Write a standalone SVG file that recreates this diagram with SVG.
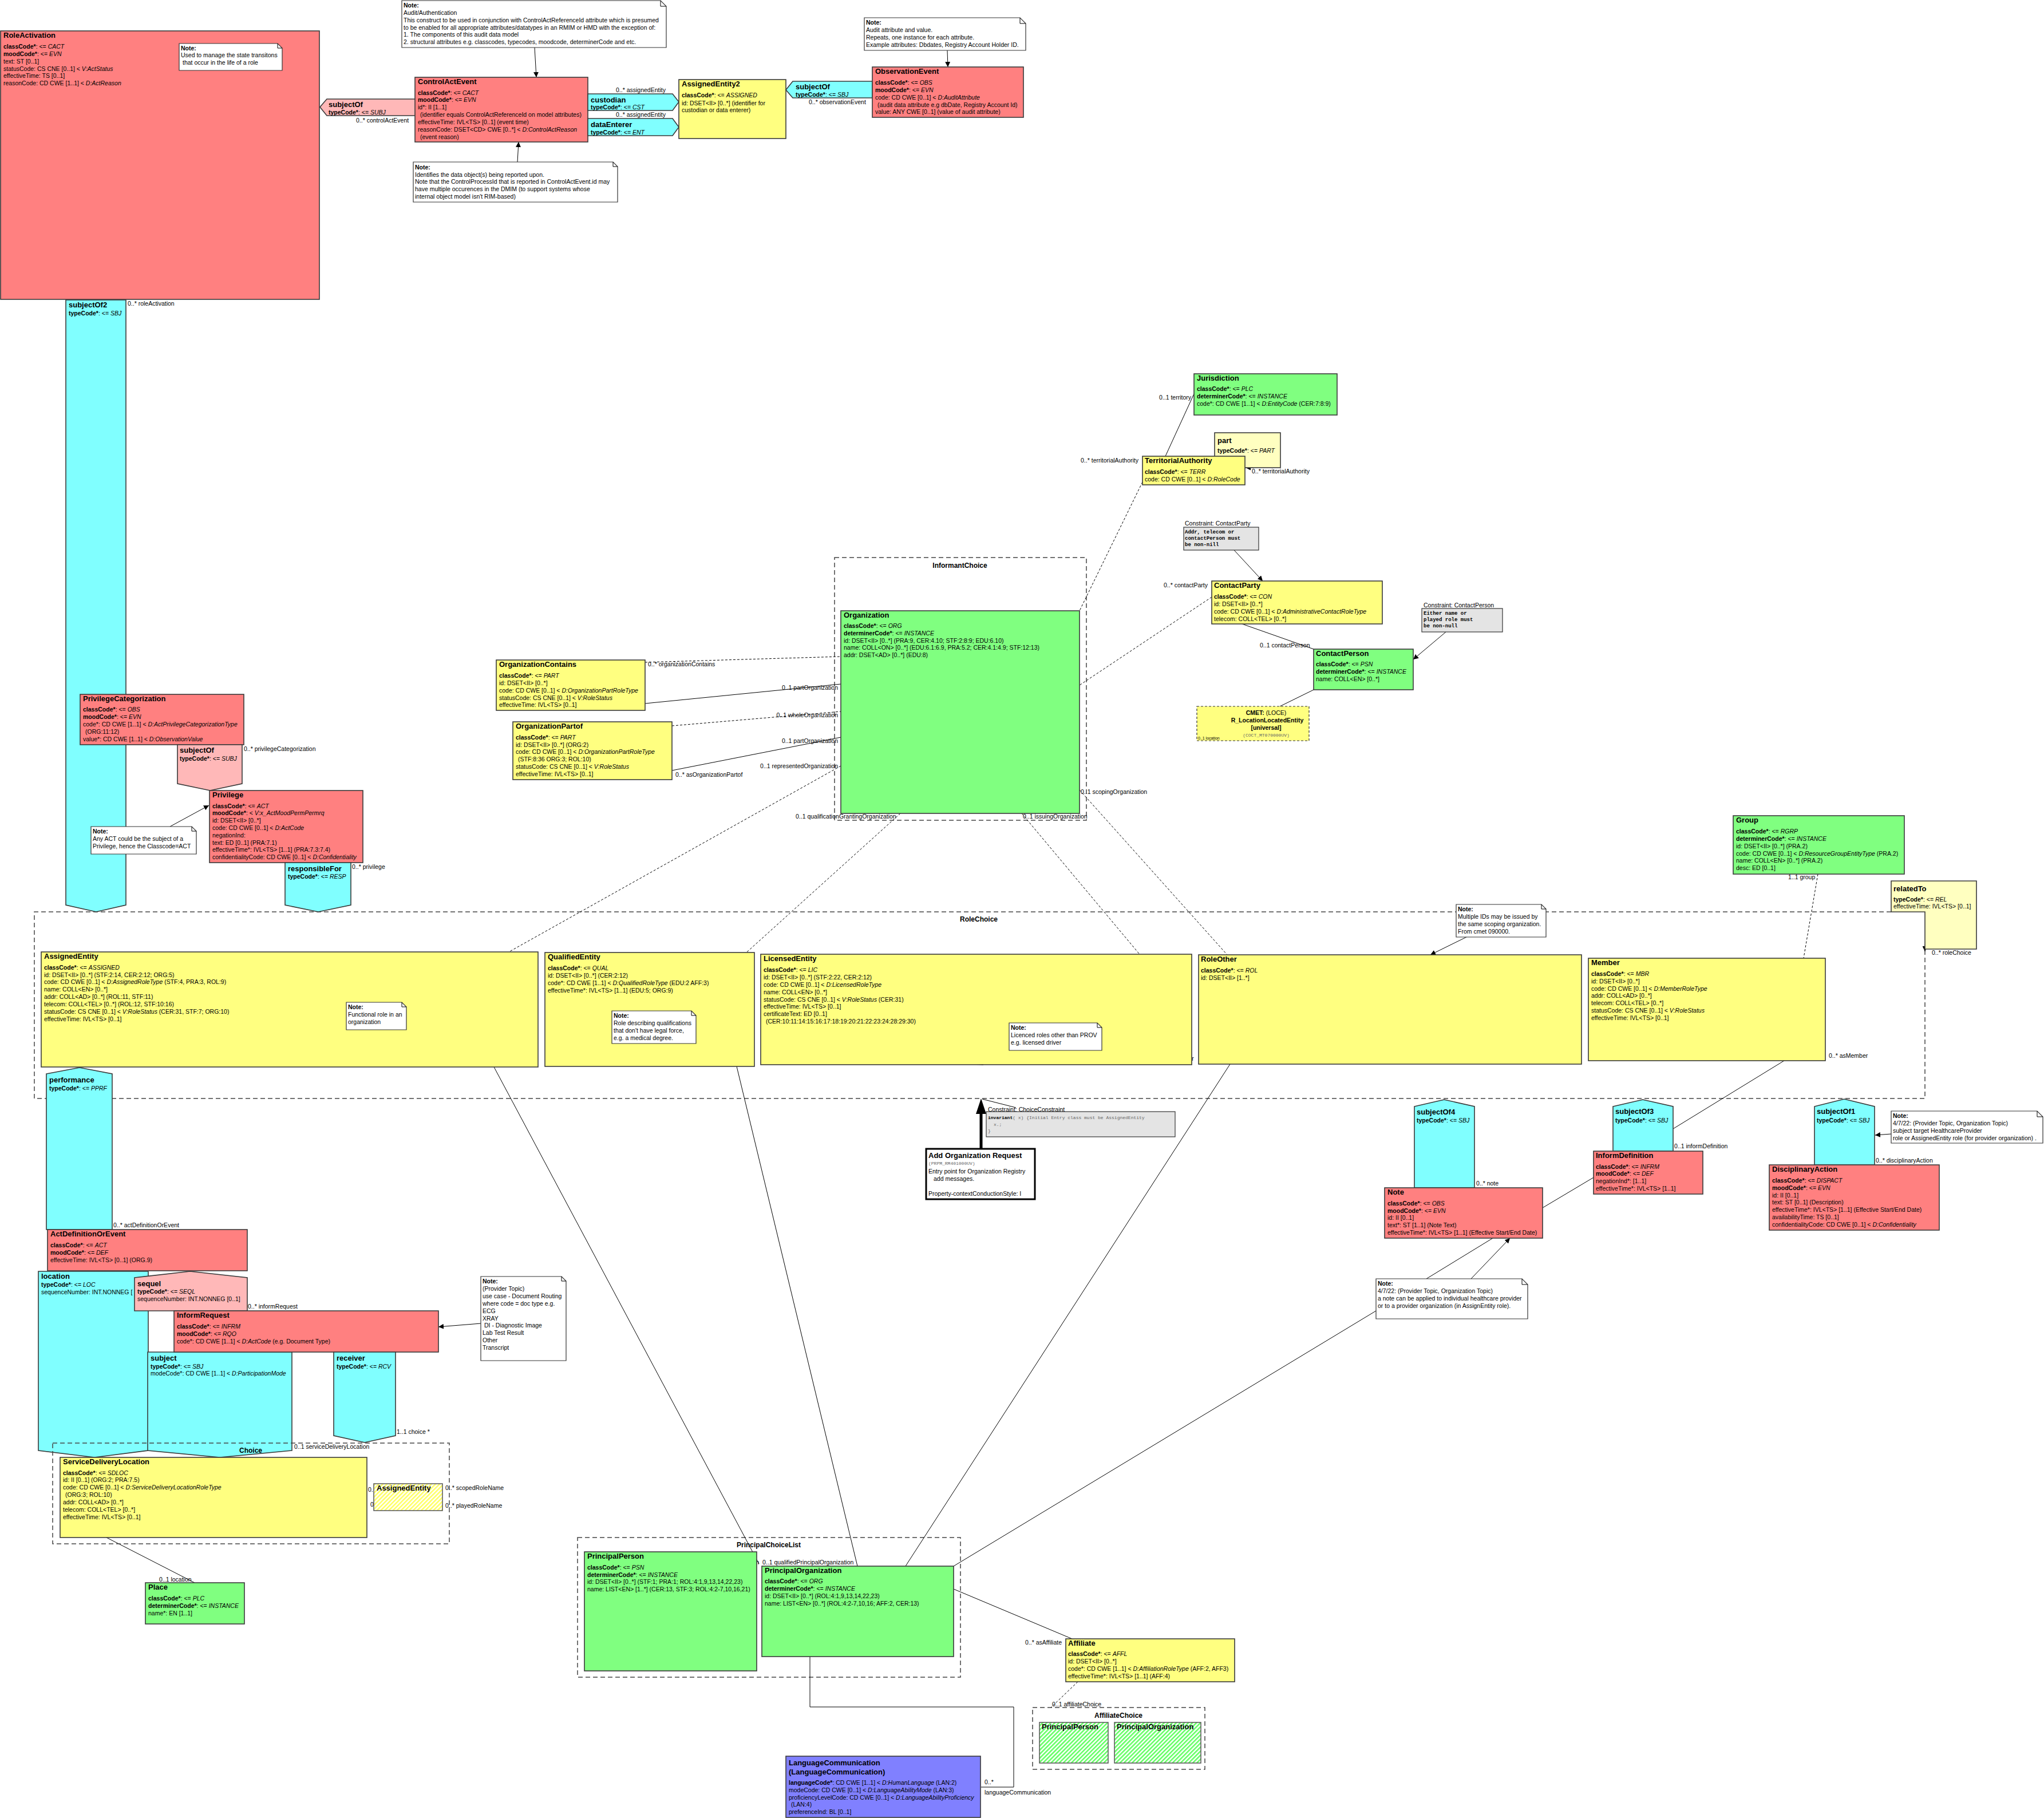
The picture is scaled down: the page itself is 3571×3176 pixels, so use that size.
<svg xmlns="http://www.w3.org/2000/svg" width="3571" height="3176" viewBox="0 0 3571 3176">
<defs>
<style>
text{font-family:"Liberation Sans",Arial,sans-serif;font-size:10.5px;fill:#000}
.t{font-size:13px;font-weight:bold}
.bt{font-size:12px;font-weight:bold}
.b{font-weight:bold}
.i{font-style:italic}
.m{font-family:"Liberation Mono","Courier New",monospace;font-size:9px;font-weight:bold}
.mg{font-family:"Liberation Mono","Courier New",monospace;font-size:8px;fill:#666}
.cls{stroke:#3a3a3a;stroke-width:1.6}
.pk{fill:#ff8080}.lp{fill:#ffb8b8}.cy{fill:#80ffff}.ye{fill:#ffff80}.gr{fill:#80ff80}.ly{fill:#ffffc0}.bl{fill:#8080ff}
.note{fill:#fff;stroke:#333;stroke-width:1.2}
.cons{fill:#e4e4e4;stroke:#333;stroke-width:1.2}
.ln{stroke:#000;stroke-width:1;fill:none}
.ds{stroke:#000;stroke-width:1;fill:none;stroke-dasharray:4 3}
.bd{fill:none;stroke:#444;stroke-width:1.5;stroke-dasharray:8 5}
.e{text-anchor:end}
.c{text-anchor:middle}
</style>
<marker id="ah" viewBox="0 0 10 10" refX="10" refY="5" markerWidth="9" markerHeight="9" orient="auto"><path d="M0,0L10,5L0,10z" fill="#000"/></marker>
<pattern id="hy" width="5" height="5" patternUnits="userSpaceOnUse" patternTransform="rotate(45)"><rect width="5" height="5" fill="#fff"/><rect width="2.5" height="5" fill="#ffff60"/></pattern>
<pattern id="hg" width="5" height="5" patternUnits="userSpaceOnUse" patternTransform="rotate(45)"><rect width="5" height="5" fill="#fff"/><rect width="2.5" height="5" fill="#60ff60"/></pattern>
</defs>
<rect width="3571" height="3176" fill="#fff"/>

<g id="boundaries">
<g id="InformantChoice"><rect class="bd" x="1458" y="974" width="440" height="459"/><text class="bt c" x="1677" y="992">InformantChoice</text></g>
<g id="RoleChoice"><path class="bd" d="M3304,1593H60V1919H3363V1658"/><text class="bt c" x="1710" y="1610">RoleChoice</text></g>
<g id="PrincipalChoiceList"><rect class="bd" x="1009" y="2686" width="669" height="244"/><text class="bt c" x="1343" y="2703">PrincipalChoiceList</text></g>
<g id="AffiliateChoice"><rect class="bd" x="1804" y="2983" width="301" height="108"/><text class="bt c" x="1954" y="3001">AffiliateChoice</text></g>
</g>

<g id="connectors">
<line class="ln" x1="426" y1="76" x2="445" y2="55" marker-end="url(#ah)"/>
<line class="ln" x1="934" y1="83" x2="937" y2="135" marker-end="url(#ah)"/>
<line class="ln" x1="904" y1="283" x2="906" y2="248" marker-end="url(#ah)"/>
<line class="ln" x1="1655" y1="88" x2="1656" y2="117" marker-end="url(#ah)"/>
<line class="ln" x1="2036" y1="797" x2="2086" y2="688"/>
<line class="ln" x1="2190" y1="817" x2="2176" y2="817" marker-end="url(#ah)"/>
<line class="ds" x1="1996" y1="842" x2="1886" y2="1067"/>
<line class="ln" x1="2156" y1="961" x2="2206" y2="1015" marker-end="url(#ah)"/>
<line class="ds" x1="2117" y1="1043" x2="1886" y2="1197"/>
<line class="ln" x1="2170" y1="1090" x2="2295" y2="1134"/>
<line class="ln" x1="2526" y1="1104" x2="2469" y2="1152" marker-end="url(#ah)"/>
<line class="ln" x1="2295" y1="1205" x2="2236" y2="1234"/>
<line class="ds" x1="1127" y1="1157" x2="1469" y2="1147"/>
<line class="ln" x1="1127" y1="1229" x2="1469" y2="1195"/>
<line class="ds" x1="1174" y1="1268" x2="1469" y2="1243"/>
<line class="ln" x1="1174" y1="1346" x2="1469" y2="1288"/>
<line class="ds" x1="1469" y1="1338" x2="889" y2="1663"/>
<line class="ds" x1="1573" y1="1421" x2="1304" y2="1664"/>
<line class="ds" x1="1785" y1="1421" x2="1990" y2="1666"/>
<line class="ds" x1="1886" y1="1380" x2="2144" y2="1668"/>
<line class="ln" x1="297" y1="1444" x2="365" y2="1407" marker-end="url(#ah)"/>
<line class="ln" x1="663" y1="1799" x2="679" y2="1864" marker-end="url(#ah)"/>
<line class="ln" x1="1139" y1="1823" x2="1136" y2="1863" marker-end="url(#ah)"/>
<line class="ln" x1="1775" y1="1835" x2="1708" y2="1860" marker-end="url(#ah)"/>
<line class="ln" x1="2562" y1="1637" x2="2499" y2="1668" marker-end="url(#ah)"/>
<line class="ds" x1="3176" y1="1527" x2="3151" y2="1674"/>
<line class="ln" x1="3117" y1="1853" x2="2923" y2="1972"/>
<line class="ln" x1="2695" y1="2110" x2="2784" y2="2057"/>
<line class="ln" x1="2492" y1="2234" x2="2608" y2="2163"/>
<line class="ln" x1="2570" y1="2234" x2="2638" y2="2163" marker-end="url(#ah)"/>
<line class="ln" x1="3304" y1="1981" x2="3276" y2="1983" marker-end="url(#ah)"/>
<line class="ln" x1="1775" y1="1935" x2="1716" y2="1920"/>
<line x1="1714" y1="1944" x2="1714" y2="2007" stroke="#000" stroke-width="5"/>
<polygon points="1714,1919 1705,1946 1723,1946" fill="#000"/>
<line class="ln" x1="863" y1="1864" x2="1326" y2="2732"/>
<line class="ln" x1="1287" y1="1863" x2="1498" y2="2736"/>
<line class="ln" x1="2149" y1="1859" x2="1582" y2="2736"/>
<line class="ln" x1="2404" y1="2290" x2="1666" y2="2736"/>
<line class="ln" x1="840" y1="2312" x2="766" y2="2318" marker-end="url(#ah)"/>
<line class="ln" x1="186" y1="2686" x2="340" y2="2765"/>
<line class="ln" x1="1666" y1="2776" x2="1873" y2="2863"/>
<line class="ds" x1="1883" y1="2938" x2="1836" y2="2983"/>
<polyline class="ln" points="1415,2894 1415,2982 1771,2982 1771,3122 1714,3122"/>
<line class="ln" x1="3363" y1="1650" x2="3363" y2="1662" marker-end="url(#ah)"/>
</g>

<g id="labels">
<text x="622" y="214">0..* controlActEvent</text>
<text x="1076" y="161">0..* assignedEntity</text>
<text x="1076" y="204">0..* assignedEntity</text>
<text x="1413" y="182">0..* observationEvent</text>
<text x="223" y="534">0..* roleActivation</text>
<text class="e" x="2081" y="698">0..1 territory</text>
<text class="e" x="1989" y="808">0..* territorialAuthority</text>
<text x="2187" y="827">0..* territorialAuthority</text>
<text class="e" x="2110" y="1026">0..* contactParty</text>
<text x="2201" y="1131">0..1 contactPerson</text>
<text x="1132" y="1164">0..* organizationContains</text>
<text class="e" x="1464" y="1205">0..1 partOrganization</text>
<text class="e" x="1464" y="1253">0..1 wholeOrganization</text>
<text class="e" x="1464" y="1298">0..1 partOrganization</text>
<text x="1180" y="1357">0..* asOrganizationPartof</text>
<text class="e" x="1464" y="1342">0..1 representedOrganization</text>
<text x="1390" y="1430">0..1 qualificationGrantingOrganization</text>
<text x="1787" y="1430">0..1 issuingOrganization</text>
<text x="1888" y="1387">0..1 scopingOrganization</text>
<text x="426" y="1312">0..* privilegeCategorization</text>
<text x="615" y="1518">0..* privilege</text>
<text x="2008" y="1853">0..* asRoleOther</text>
<text x="3124" y="1536">1..1 group</text>
<text x="3375" y="1668">0..* roleChoice</text>
<text x="3195" y="1848">0..* asMember</text>
<text x="2579" y="2071">0..* note</text>
<text x="2925" y="2006">0..1 informDefinition</text>
<text x="3277" y="2031">0..* disciplinaryAction</text>
<text x="198" y="2144">0..* actDefinitionOrEvent</text>
<text x="433" y="2286">0..* informRequest</text>
<text x="693" y="2505">1..1 choice  *</text>
<text x="514" y="2531">0..1 serviceDeliveryLocation</text>
<text x="643" y="2606">0.</text>
<text x="647" y="2632">0</text>
<text x="778" y="2603">0..* scopedRoleName</text>
<text x="778" y="2634">0..* playedRoleName</text>
<text x="278" y="2763">0..1 location</text>
<text class="e" x="1326" y="2733">0..1 assignedPrincipalOrganization</text>
<text x="1332" y="2733">0..1 qualifiedPrincipalOrganization</text>
<text class="e" x="1855" y="2873">0..* asAffiliate</text>
<text x="1838" y="2981">0..1 affiliateChoice</text>
<text x="1720" y="3117">0..*</text>
<text x="1720" y="3135">languageCommunication</text>
</g>

<g id="RoleActivation">
<rect class="pk cls" x="1" y="54" width="557" height="469"/>
<text><tspan class="t" x="6" y="66">RoleActivation</tspan>
<tspan x="6" y="85"><tspan class="b">classCode*</tspan>: &lt;= <tspan class="i">CACT</tspan></tspan>
<tspan x="6" y="98"><tspan class="b">moodCode*</tspan>: &lt;= <tspan class="i">EVN</tspan></tspan>
<tspan x="6" y="111">text: ST [0..1]</tspan>
<tspan x="6" y="124">statusCode: CS CNE [0..1] &lt; <tspan class="i">V:ActStatus</tspan></tspan>
<tspan x="6" y="136">effectiveTime: TS [0..1]</tspan>
<tspan x="6" y="149">reasonCode: CD CWE [1..1] &lt; <tspan class="i">D:ActReason</tspan></tspan></text>
</g>
<g id="NoteRoleActivation">
<path class="note" d="M313,76H485L493,84V123H313Z"/><path class="ln" d="M485,76V84H493"/>
<text><tspan class="b" x="316" y="88">Note:</tspan><tspan x="316" y="100">Used to manage the state transitons</tspan><tspan x="319" y="113">that occur in the life of a role</tspan></text>
</g>

<g id="subjectOfCAE">
<polygon class="lp cls" points="559,187 571,173 726,173 726,202 571,202"/>
<text><tspan class="t" x="574" y="187">subjectOf</tspan><tspan x="574" y="200"><tspan class="b">typeCode*</tspan>: &lt;= <tspan class="i">SUBJ</tspan></tspan></text>
</g>

<g id="ControlActEvent">
<rect class="pk cls" x="725" y="135" width="302" height="113"/>
<text><tspan class="t" x="730" y="147">ControlActEvent</tspan>
<tspan x="730" y="166"><tspan class="b">classCode*</tspan>: &lt;= <tspan class="i">CACT</tspan></tspan>
<tspan x="730" y="178"><tspan class="b">moodCode*</tspan>: &lt;= <tspan class="i">EVN</tspan></tspan>
<tspan x="730" y="191">id*: II [1..1]</tspan>
<tspan x="734" y="204">(identifier equals ControlActReferenceId on model attributes)</tspan>
<tspan x="730" y="217">effectiveTime: IVL&lt;TS&gt; [0..1] (event time)</tspan>
<tspan x="730" y="230">reasonCode: DSET&lt;CD&gt; CWE [0..*] &lt; <tspan class="i">D:ControlActReason</tspan></tspan>
<tspan x="734" y="243">(event reason)</tspan></text>
</g>

<g id="NoteAudit">
<path class="note" d="M702,1H1154L1164,11V83H702Z"/><path class="ln" d="M1154,1V11H1164"/>
<text><tspan class="b" x="705" y="13">Note:</tspan>
<tspan x="705" y="26">Audit/Authentication</tspan>
<tspan x="705" y="39">This construct to be used in conjunction with ControlActReferenceId attribute which is presumed</tspan>
<tspan x="705" y="52">to be enabled for all appropriate attributes/datatypes in an RMIM or HMD with the exception of:</tspan>
<tspan x="705" y="64">1. The components of this audit data model</tspan>
<tspan x="705" y="77">2. structural attributes e.g. classcodes, typecodes, moodcode, determinerCode and etc.</tspan></text>
</g>

<g id="NoteDataObject">
<path class="note" d="M722,283H1071L1079,291V353H722Z"/><path class="ln" d="M1071,283V291H1079"/>
<text><tspan class="b" x="725" y="296">Note:</tspan>
<tspan x="725" y="309">Identifies the data object(s) being reported upon.</tspan>
<tspan x="725" y="321">Note that the ControlProcessId that is reported in ControlActEvent.id may</tspan>
<tspan x="725" y="334">have multiple occurences in the DMIM (to support systems whose</tspan>
<tspan x="725" y="347">internal object model isn't RIM-based)</tspan></text>
</g>

<g id="custodian">
<polygon class="cy cls" points="1027,164 1175,164 1186,178 1175,193 1027,193"/>
<text><tspan class="t" x="1032" y="179">custodian</tspan><tspan x="1032" y="191"><tspan class="b">typeCode*</tspan>: &lt;= <tspan class="i">CST</tspan></tspan></text>
</g>
<g id="dataEnterer">
<polygon class="cy cls" points="1027,207 1175,207 1186,222 1175,237 1027,237"/>
<text><tspan class="t" x="1032" y="222">dataEnterer</tspan><tspan x="1032" y="235"><tspan class="b">typeCode*</tspan>: &lt;= <tspan class="i">ENT</tspan></tspan></text>
</g>

<g id="AssignedEntity2">
<rect class="ye cls" x="1186" y="139" width="187" height="103"/>
<text><tspan class="t" x="1191" y="151">AssignedEntity2</tspan>
<tspan x="1191" y="170"><tspan class="b">classCode*</tspan>: &lt;= <tspan class="i">ASSIGNED</tspan></tspan>
<tspan x="1191" y="184">id: DSET&lt;II&gt; [0..*] (identifier for</tspan>
<tspan x="1191" y="196">custodian or data enterer)</tspan></text>
</g>

<g id="subjectOfObs">
<polygon class="cy cls" points="1373,157 1385,142 1524,142 1524,171 1385,171"/>
<text><tspan class="t" x="1390" y="156">subjectOf</tspan><tspan x="1390" y="169"><tspan class="b">typeCode*</tspan>: &lt;= <tspan class="i">SBJ</tspan></tspan></text>
</g>

<g id="ObservationEvent">
<rect class="pk cls" x="1524" y="117" width="264" height="88"/>
<text><tspan class="t" x="1529" y="129">ObservationEvent</tspan>
<tspan x="1529" y="148"><tspan class="b">classCode*</tspan>: &lt;= <tspan class="i">OBS</tspan></tspan>
<tspan x="1529" y="161"><tspan class="b">moodCode*</tspan>: &lt;= <tspan class="i">EVN</tspan></tspan>
<tspan x="1529" y="174">code: CD CWE [0..1] &lt; <tspan class="i">D:AuditAttribute</tspan></tspan>
<tspan x="1533" y="187">(audit data attribute e.g dbDate, Registry Account Id)</tspan>
<tspan x="1529" y="199">value: ANY CWE [0..1] (value of audit attribute)</tspan></text>
</g>

<g id="NoteAuditAttribute">
<path class="note" d="M1510,31H1782L1792,41V88H1510Z"/><path class="ln" d="M1782,31V41H1792"/>
<text><tspan class="b" x="1513" y="43">Note:</tspan>
<tspan x="1513" y="56">Audit attribute and value.</tspan>
<tspan x="1513" y="69">Repeats, one instance for each attribute.</tspan>
<tspan x="1513" y="82">Example attributes: Dbdates, Registry Account Holder ID.</tspan></text>
</g>

<g id="subjectOf2">
<polygon class="cy cls" points="115,524 220,524 220,1581 168,1593 115,1581"/>
<text><tspan class="t" x="120" y="537">subjectOf2</tspan><tspan x="120" y="551"><tspan class="b">typeCode*</tspan>: &lt;= <tspan class="i">SBJ</tspan></tspan></text>
</g>

<g id="Jurisdiction">
<rect class="gr cls" x="2086" y="653" width="250" height="72"/>
<text><tspan class="t" x="2091" y="665">Jurisdiction</tspan>
<tspan x="2091" y="683"><tspan class="b">classCode*</tspan>: &lt;= <tspan class="i">PLC</tspan></tspan>
<tspan x="2091" y="696"><tspan class="b">determinerCode*</tspan>: &lt;= <tspan class="i">INSTANCE</tspan></tspan>
<tspan x="2091" y="709">code*: CD CWE [1..1] &lt; <tspan class="i">D:EntityCode</tspan> (CER:7:8:9)</tspan></text>
</g>

<g id="part">
<rect class="ly cls" x="2122" y="756" width="115" height="61"/>
<text><tspan class="t" x="2127" y="774">part</tspan><tspan x="2127" y="791"><tspan class="b">typeCode*</tspan>: &lt;= <tspan class="i">PART</tspan></tspan></text>
</g>

<g id="TerritorialAuthority">
<rect class="ye cls" x="1996" y="797" width="179" height="50"/>
<text><tspan class="t" x="2000" y="809">TerritorialAuthority</tspan>
<tspan x="2000" y="828"><tspan class="b">classCode*</tspan>: &lt;= <tspan class="i">TERR</tspan></tspan>
<tspan x="2000" y="841">code: CD CWE [0..1] &lt; <tspan class="i">D:RoleCode</tspan></tspan></text>
</g>

<g id="ConstraintContactParty">
<rect class="cons" x="2068" y="921" width="131" height="40"/>
<text x="2070" y="918">Constraint: ContactParty</text>
<text class="m"><tspan x="2070" y="932">Addr, telecom or</tspan><tspan x="2070" y="943">contactPerson must</tspan><tspan x="2070" y="954">be non-nill</tspan></text>
</g>

<g id="ContactParty">
<rect class="ye cls" x="2117" y="1015" width="298" height="75"/>
<text><tspan class="t" x="2121" y="1027">ContactParty</tspan>
<tspan x="2121" y="1046"><tspan class="b">classCode*</tspan>: &lt;= <tspan class="i">CON</tspan></tspan>
<tspan x="2121" y="1059">id: DSET&lt;II&gt; [0..*]</tspan>
<tspan x="2121" y="1072">code: CD CWE [0..1] &lt; <tspan class="i">D:AdministrativeContactRoleType</tspan></tspan>
<tspan x="2121" y="1085">telecom: COLL&lt;TEL&gt; [0..*]</tspan></text>
</g>

<g id="ConstraintContactPerson">
<rect class="cons" x="2484" y="1063" width="141" height="41"/>
<text x="2487" y="1061">Constraint: ContactPerson</text>
<text class="m"><tspan x="2487" y="1074">Either name or</tspan><tspan x="2487" y="1085">played role must</tspan><tspan x="2487" y="1096">be non-null</tspan></text>
</g>

<g id="ContactPerson">
<rect class="gr cls" x="2295" y="1134" width="174" height="71"/>
<text><tspan class="t" x="2299" y="1146">ContactPerson</tspan>
<tspan x="2299" y="1164"><tspan class="b">classCode*</tspan>: &lt;= <tspan class="i">PSN</tspan></tspan>
<tspan x="2299" y="1177"><tspan class="b">determinerCode*</tspan>: &lt;= <tspan class="i">INSTANCE</tspan></tspan>
<tspan x="2299" y="1190">name: COLL&lt;EN&gt; [0..*]</tspan></text>
</g>

<g id="CMET_LocationLocatedEntity">
<rect x="2091" y="1234" width="196" height="60" fill="#ffff80" stroke="#333" stroke-width="1.2" stroke-dasharray="4 3"/>
<text class="c"><tspan x="2212" y="1249"><tspan class="b">CMET:</tspan> (LOCE)</tspan><tspan class="b" x="2214" y="1262">R_LocationLocatedEntity</tspan><tspan class="b" x="2212" y="1275">[universal]</tspan></text>
<text class="mg c" x="2212" y="1287">(COCT_MT070000UV)</text>
<text x="2093" y="1292" style="font-size:7px">0..1 location</text>
</g>

<g id="Organization">
<rect class="gr cls" x="1469" y="1067" width="417" height="354"/>
<text><tspan class="t" x="1474" y="1079">Organization</tspan>
<tspan x="1474" y="1097"><tspan class="b">classCode*</tspan>: &lt;= <tspan class="i">ORG</tspan></tspan>
<tspan x="1474" y="1110"><tspan class="b">determinerCode*</tspan>: &lt;= <tspan class="i">INSTANCE</tspan></tspan>
<tspan x="1474" y="1123">id: DSET&lt;II&gt; [0..*] (PRA:9, CER:4.10; STF:2:8:9; EDU:6.10)</tspan>
<tspan x="1474" y="1135">name: COLL&lt;ON&gt; [0..*] (EDU:6.1:6.9, PRA:5.2; CER:4.1:4.9; STF:12:13)</tspan>
<tspan x="1474" y="1148">addr: DSET&lt;AD&gt; [0..*] (EDU:8)</tspan></text>
</g>

<g id="OrganizationContains">
<rect class="ye cls" x="867" y="1153" width="260" height="88"/>
<text><tspan class="t" x="872" y="1165">OrganizationContains</tspan>
<tspan x="872" y="1184"><tspan class="b">classCode*</tspan>: &lt;= <tspan class="i">PART</tspan></tspan>
<tspan x="872" y="1197">id: DSET&lt;II&gt; [0..*]</tspan>
<tspan x="872" y="1210">code: CD CWE [0..1] &lt; <tspan class="i">D:OrganizationPartRoleType</tspan></tspan>
<tspan x="872" y="1223">statusCode: CS CNE [0..1] &lt; <tspan class="i">V:RoleStatus</tspan></tspan>
<tspan x="872" y="1235">effectiveTime: IVL&lt;TS&gt; [0..1]</tspan></text>
</g>

<g id="OrganizationPartof">
<rect class="ye cls" x="896" y="1261" width="278" height="101"/>
<text><tspan class="t" x="901" y="1273">OrganizationPartof</tspan>
<tspan x="901" y="1292"><tspan class="b">classCode*</tspan>: &lt;= <tspan class="i">PART</tspan></tspan>
<tspan x="901" y="1305">id: DSET&lt;II&gt; [0..*] (ORG:2)</tspan>
<tspan x="901" y="1317">code: CD CWE [0..1] &lt; <tspan class="i">D:OrganizationPartRoleType</tspan></tspan>
<tspan x="905" y="1330">(STF:8:36 ORG:3; ROL:10)</tspan>
<tspan x="901" y="1343">statusCode: CS CNE [0..1] &lt; <tspan class="i">V:RoleStatus</tspan></tspan>
<tspan x="901" y="1356">effectiveTime: IVL&lt;TS&gt; [0..1]</tspan></text>
</g>

<g id="PrivilegeCategorization">
<rect class="pk cls" x="140" y="1213" width="286" height="88"/>
<text><tspan class="t" x="145" y="1225">PrivilegeCategorization</tspan>
<tspan x="145" y="1243"><tspan class="b">classCode*</tspan>: &lt;= <tspan class="i">OBS</tspan></tspan>
<tspan x="145" y="1256"><tspan class="b">moodCode*</tspan>: &lt;= <tspan class="i">EVN</tspan></tspan>
<tspan x="145" y="1269">code*: CD CWE [1..1] &lt; <tspan class="i">D:ActPrivilegeCategorizationType</tspan></tspan>
<tspan x="149" y="1282">(ORG:11:12)</tspan>
<tspan x="145" y="1295">value*: CD CWE [1..1] &lt; <tspan class="i">D:ObservationValue</tspan></tspan></text>
</g>

<g id="subjectOfPriv">
<polygon class="lp cls" points="310,1301 423,1301 423,1369 367,1381 310,1369"/>
<text><tspan class="t" x="314" y="1315">subjectOf</tspan><tspan x="314" y="1329"><tspan class="b">typeCode*</tspan>: &lt;= <tspan class="i">SUBJ</tspan></tspan></text>
</g>

<g id="Privilege">
<rect class="pk cls" x="366" y="1381" width="268" height="126"/>
<text><tspan class="t" x="371" y="1393">Privilege</tspan>
<tspan x="371" y="1412"><tspan class="b">classCode*</tspan>: &lt;= <tspan class="i">ACT</tspan></tspan>
<tspan x="371" y="1424"><tspan class="b">moodCode*</tspan>: &lt; <tspan class="i">V:x_ActMoodPermPermrq</tspan></tspan>
<tspan x="371" y="1437">id: DSET&lt;II&gt; [0..*]</tspan>
<tspan x="371" y="1450">code: CD CWE [0..1] &lt; <tspan class="i">D:ActCode</tspan></tspan>
<tspan x="371" y="1463">negationInd:</tspan>
<tspan x="371" y="1476">text: ED [0..1] (PRA:7.1)</tspan>
<tspan x="371" y="1488">effectiveTime*: IVL&lt;TS&gt; [1..1] (PRA:7.3:7.4)</tspan>
<tspan x="371" y="1501">confidentialityCode: CD CWE [0..1] &lt; <tspan class="i">D:Confidentiality</tspan></tspan></text>
</g>

<g id="NotePrivilege">
<path class="note" d="M159,1444H335L343,1452V1492H159Z"/><path class="ln" d="M335,1444V1452H343"/>
<text><tspan class="b" x="162" y="1456">Note:</tspan><tspan x="162" y="1469">Any ACT could be the subject of a</tspan><tspan x="162" y="1482">Privilege, hence the Classcode=ACT</tspan></text>
</g>

<g id="responsibleFor">
<polygon class="cy cls" points="498,1507 613,1507 613,1581 556,1593 498,1581"/>
<text><tspan class="t" x="503" y="1522">responsibleFor</tspan><tspan x="503" y="1535"><tspan class="b">typeCode*</tspan>: &lt;= <tspan class="i">RESP</tspan></tspan></text>
</g>

<g id="AssignedEntity">
<rect class="ye cls" x="72" y="1663" width="868" height="201"/>
<text><tspan class="t" x="77" y="1675">AssignedEntity</tspan>
<tspan x="77" y="1694"><tspan class="b">classCode*</tspan>: &lt;= <tspan class="i">ASSIGNED</tspan></tspan>
<tspan x="77" y="1707">id: DSET&lt;II&gt; [0..*] (STF:2:14, CER:2:12; ORG:5)</tspan>
<tspan x="77" y="1719">code: CD CWE [0..1] &lt; <tspan class="i">D:AssignedRoleType</tspan> (STF:4, PRA:3, ROL:9)</tspan>
<tspan x="77" y="1732">name: COLL&lt;EN&gt; [0..*]</tspan>
<tspan x="77" y="1745">addr: COLL&lt;AD&gt; [0..*] (ROL:11, STF:11)</tspan>
<tspan x="77" y="1758">telecom: COLL&lt;TEL&gt; [0..*] (ROL:12, STF:10:16)</tspan>
<tspan x="77" y="1771">statusCode: CS CNE [0..1] &lt; <tspan class="i">V:RoleStatus</tspan> (CER:31, STF:7; ORG:10)</tspan>
<tspan x="77" y="1784">effectiveTime: IVL&lt;TS&gt; [0..1]</tspan></text>
</g>
<g id="NoteAssignedEntity">
<path class="note" d="M605,1751H702L710,1759V1799H605Z"/><path class="ln" d="M702,1751V1759H710"/>
<text><tspan class="b" x="608" y="1763">Note:</tspan><tspan x="608" y="1776">Functional role in an</tspan><tspan x="608" y="1789">organization</tspan></text>
</g>

<g id="QualifiedEntity">
<rect class="ye cls" x="952" y="1664" width="366" height="199"/>
<text><tspan class="t" x="957" y="1676">QualifiedEntity</tspan>
<tspan x="957" y="1695"><tspan class="b">classCode*</tspan>: &lt;= <tspan class="i">QUAL</tspan></tspan>
<tspan x="957" y="1708">id: DSET&lt;II&gt; [0..*] (CER:2:12)</tspan>
<tspan x="957" y="1721">code*: CD CWE [1..1] &lt; <tspan class="i">D:QualifiedRoleType</tspan> (EDU:2 AFF:3)</tspan>
<tspan x="957" y="1734">effectiveTime*: IVL&lt;TS&gt; [1..1] (EDU:5; ORG:9)</tspan></text>
</g>
<g id="NoteQualifiedEntity">
<path class="note" d="M1069,1766H1208L1216,1774V1823H1069Z"/><path class="ln" d="M1208,1766V1774H1216"/>
<text><tspan class="b" x="1072" y="1778">Note:</tspan><tspan x="1072" y="1791">Role describing qualifications</tspan><tspan x="1072" y="1804">that don't have legal force,</tspan><tspan x="1072" y="1817">e.g. a medical degree.</tspan></text>
</g>

<g id="LicensedEntity">
<rect class="ye cls" x="1329" y="1667" width="753" height="193"/>
<text><tspan class="t" x="1334" y="1679">LicensedEntity</tspan>
<tspan x="1334" y="1698"><tspan class="b">classCode*</tspan>: &lt;= <tspan class="i">LIC</tspan></tspan>
<tspan x="1334" y="1711">id: DSET&lt;II&gt; [0..*] (STF:2:22, CER:2:12)</tspan>
<tspan x="1334" y="1724">code: CD CWE [0..1] &lt; <tspan class="i">D:LicensedRoleType</tspan></tspan>
<tspan x="1334" y="1737">name: COLL&lt;EN&gt; [0..*]</tspan>
<tspan x="1334" y="1750">statusCode: CS CNE [0..1] &lt; <tspan class="i">V:RoleStatus</tspan> (CER:31)</tspan>
<tspan x="1334" y="1762">effectiveTime: IVL&lt;TS&gt; [0..1]</tspan>
<tspan x="1334" y="1775">certificateText: ED [0..1]</tspan>
<tspan x="1338" y="1788">(CER:10:11:14:15:16:17:18:19:20:21:22:23:24:28:29:30)</tspan></text>
</g>
<g id="NoteLicensedEntity">
<path class="note" d="M1763,1787H1917L1925,1795V1835H1763Z"/><path class="ln" d="M1917,1787V1795H1925"/>
<text><tspan class="b" x="1766" y="1799">Note:</tspan><tspan x="1766" y="1812">Licenced roles other than PROV</tspan><tspan x="1766" y="1825">e.g. licensed driver</tspan></text>
</g>

<g id="RoleOther">
<rect class="ye cls" x="2094" y="1668" width="669" height="191"/>
<text><tspan class="t" x="2098" y="1680">RoleOther</tspan>
<tspan x="2098" y="1699"><tspan class="b">classCode*</tspan>: &lt;= <tspan class="i">ROL</tspan></tspan>
<tspan x="2098" y="1712">id: DSET&lt;II&gt; [1..*]</tspan></text>
</g>
<g id="NoteRoleOther">
<path class="note" d="M2544,1580H2693L2701,1588V1637H2544Z"/><path class="ln" d="M2693,1580V1588H2701"/>
<text><tspan class="b" x="2547" y="1592">Note:</tspan><tspan x="2547" y="1605">Multiple IDs may be issued by</tspan><tspan x="2547" y="1618">the same scoping organization.</tspan><tspan x="2547" y="1631">From cmet 090000.</tspan></text>
</g>

<g id="Member">
<rect class="ye cls" x="2775" y="1674" width="414" height="179"/>
<text><tspan class="t" x="2780" y="1686">Member</tspan>
<tspan x="2780" y="1705"><tspan class="b">classCode*</tspan>: &lt;= <tspan class="i">MBR</tspan></tspan>
<tspan x="2780" y="1718">id: DSET&lt;II&gt; [0..*]</tspan>
<tspan x="2780" y="1731">code: CD CWE [0..1] &lt; <tspan class="i">D:MemberRoleType</tspan></tspan>
<tspan x="2780" y="1743">addr: COLL&lt;AD&gt; [0..*]</tspan>
<tspan x="2780" y="1756">telecom: COLL&lt;TEL&gt; [0..*]</tspan>
<tspan x="2780" y="1769">statusCode: CS CNE [0..1] &lt; <tspan class="i">V:RoleStatus</tspan></tspan>
<tspan x="2780" y="1782">effectiveTime: IVL&lt;TS&gt; [0..1]</tspan></text>
</g>

<g id="Group">
<rect class="gr cls" x="3028" y="1425" width="299" height="102"/>
<text><tspan class="t" x="3033" y="1437">Group</tspan>
<tspan x="3033" y="1456"><tspan class="b">classCode*</tspan>: &lt;= <tspan class="i">RGRP</tspan></tspan>
<tspan x="3033" y="1469"><tspan class="b">determinerCode*</tspan>: &lt;= <tspan class="i">INSTANCE</tspan></tspan>
<tspan x="3033" y="1482">id: DSET&lt;II&gt; [0..*] (PRA.2)</tspan>
<tspan x="3033" y="1495">code: CD CWE [0..1] &lt; <tspan class="i">D:ResourceGroupEntityType</tspan> (PRA.2)</tspan>
<tspan x="3033" y="1507">name: COLL&lt;EN&gt; [0..*] (PRA.2)</tspan>
<tspan x="3033" y="1520">desc: ED [0..1]</tspan></text>
</g>

<g id="relatedTo">
<polygon class="ly cls" points="3304,1539 3453,1539 3453,1658 3363,1658 3363,1593 3304,1593"/>
<text><tspan class="t" x="3308" y="1557">relatedTo</tspan>
<tspan x="3308" y="1575"><tspan class="b">typeCode*</tspan>: &lt;= <tspan class="i">REL</tspan></tspan>
<tspan x="3308" y="1587">effectiveTime: IVL&lt;TS&gt; [0..1]</tspan></text>
</g>

<g id="subjectOf4">
<polygon class="cy cls" points="2471,1933 2523,1921 2576,1933 2576,2075 2471,2075"/>
<text><tspan class="t" x="2475" y="1947">subjectOf4</tspan><tspan x="2475" y="1961"><tspan class="b">typeCode*</tspan>: &lt;= <tspan class="i">SBJ</tspan></tspan></text>
</g>
<g id="Note">
<rect class="pk cls" x="2419" y="2075" width="276" height="88"/>
<text><tspan class="t" x="2424" y="2087">Note</tspan>
<tspan x="2424" y="2106"><tspan class="b">classCode*</tspan>: &lt;= <tspan class="i">OBS</tspan></tspan>
<tspan x="2424" y="2119"><tspan class="b">moodCode*</tspan>: &lt;= <tspan class="i">EVN</tspan></tspan>
<tspan x="2424" y="2131">id: II [0..1]</tspan>
<tspan x="2424" y="2144">text*: ST [1..1] (Note Text)</tspan>
<tspan x="2424" y="2157">effectiveTime*: IVL&lt;TS&gt; [1..1] (Effective Start/End Date)</tspan></text>
</g>

<g id="subjectOf3">
<polygon class="cy cls" points="2818,1933 2870,1921 2923,1933 2923,2011 2818,2011"/>
<text><tspan class="t" x="2822" y="1946">subjectOf3</tspan><tspan x="2822" y="1961"><tspan class="b">typeCode*</tspan>: &lt;= <tspan class="i">SBJ</tspan></tspan></text>
</g>
<g id="InformDefinition">
<rect class="pk cls" x="2784" y="2011" width="191" height="75"/>
<text><tspan class="t" x="2788" y="2023">InformDefinition</tspan>
<tspan x="2788" y="2042"><tspan class="b">classCode*</tspan>: &lt;= <tspan class="i">INFRM</tspan></tspan>
<tspan x="2788" y="2054"><tspan class="b">moodCode*</tspan>: &lt;= <tspan class="i">DEF</tspan></tspan>
<tspan x="2788" y="2067">negationInd*: [1..1]</tspan>
<tspan x="2788" y="2080">effectiveTime*: IVL&lt;TS&gt; [1..1]</tspan></text>
</g>

<g id="subjectOf1">
<polygon class="cy cls" points="3170,1933 3222,1920 3275,1933 3275,2035 3170,2035"/>
<text><tspan class="t" x="3174" y="1946">subjectOf1</tspan><tspan x="3174" y="1961"><tspan class="b">typeCode*</tspan>: &lt;= <tspan class="i">SBJ</tspan></tspan></text>
</g>
<g id="DisciplinaryAction">
<rect class="pk cls" x="3091" y="2035" width="297" height="114"/>
<text><tspan class="t" x="3096" y="2047">DisciplinaryAction</tspan>
<tspan x="3096" y="2066"><tspan class="b">classCode*</tspan>: &lt;= <tspan class="i">DISPACT</tspan></tspan>
<tspan x="3096" y="2079"><tspan class="b">moodCode*</tspan>: &lt;= <tspan class="i">EVN</tspan></tspan>
<tspan x="3096" y="2092">id: II [0..1]</tspan>
<tspan x="3096" y="2104">text: ST [0..1] (Description)</tspan>
<tspan x="3096" y="2117">effectiveTime*: IVL&lt;TS&gt; [1..1] (Effective Start/End Date)</tspan>
<tspan x="3096" y="2130">availabilityTime: TS [0..1]</tspan>
<tspan x="3096" y="2143">confidentialityCode: CD CWE [0..1] &lt; <tspan class="i">D:Confidentiality</tspan></tspan></text>
</g>
<g id="NoteDisciplinary">
<path class="note" d="M3304,1941H3559L3569,1951V1997H3304Z"/><path class="ln" d="M3559,1941V1951H3569"/>
<text><tspan class="b" x="3307" y="1953">Note:</tspan><tspan x="3307" y="1966">4/7/22: (Provider Topic, Organization Topic)</tspan><tspan x="3307" y="1979">subject target HealthcareProvider</tspan><tspan x="3307" y="1992">role or AssignedEntity role (for provider organization) .</tspan></text>
</g>

<g id="NoteProviderOrg">
<path class="note" d="M2404,2234H2659L2669,2244V2304H2404Z"/><path class="ln" d="M2659,2234V2244H2669"/>
<text><tspan class="b" x="2407" y="2246">Note:</tspan><tspan x="2407" y="2259">4/7/22: (Provider Topic, Organization Topic)</tspan><tspan x="2407" y="2272">a note can be applied to individual healthcare provider</tspan><tspan x="2407" y="2285">or to a provider organization (in AssignEntity role).</tspan></text>
</g>

<g id="ChoiceConstraint">
<rect class="cons" x="1723" y="1942" width="330" height="44"/>
<text x="1726" y="1942">Constraint: ChoiceConstraint</text>
<text class="mg"><tspan x="1726" y="1955"><tspan class="b" style="fill:#000">invariant</tspan>( x) {Initial Entry class must be AssignedEntity</tspan><tspan x="1736" y="1967">x.;</tspan><tspan x="1726" y="1978">}</tspan></text>
</g>

<g id="AddOrganizationRequest">
<rect x="1618" y="2007" width="190" height="88" fill="#fff" stroke="#000" stroke-width="3"/>
<text><tspan class="t" x="1622" y="2023">Add Organization Request</tspan></text>
<text class="mg" x="1622" y="2035">(PRPM_RM401000UV)</text>
<text><tspan x="1622" y="2050">Entry point for Organization Registry</tspan><tspan x="1631" y="2063">add messages.</tspan><tspan x="1622" y="2089">Property-contextConductionStyle: I</tspan></text>
</g>

<g id="performance">
<polygon class="cy cls" points="81,1876 139,1865 196,1876 196,2148 81,2148"/>
<text><tspan class="t" x="86" y="1891">performance</tspan><tspan x="86" y="1905"><tspan class="b">typeCode*</tspan>: &lt;= <tspan class="i">PPRF</tspan></tspan></text>
</g>

<g id="ActDefinitionOrEvent">
<rect class="pk cls" x="83" y="2148" width="349" height="72"/>
<text><tspan class="t" x="88" y="2160">ActDefinitionOrEvent</tspan>
<tspan x="88" y="2179"><tspan class="b">classCode*</tspan>: &lt;= <tspan class="i">ACT</tspan></tspan>
<tspan x="88" y="2192"><tspan class="b">moodCode*</tspan>: &lt;= <tspan class="i">DEF</tspan></tspan>
<tspan x="88" y="2205">effectiveTime: IVL&lt;TS&gt; [0..1] (ORG.9)</tspan></text>
</g>

<g id="location">
<polygon class="cy cls" points="67,2221 259,2221 259,2534 165,2546 67,2534"/>
<text><tspan class="t" x="72" y="2234">location</tspan><tspan x="72" y="2248"><tspan class="b">typeCode*</tspan>: &lt;= <tspan class="i">LOC</tspan></tspan><tspan x="72" y="2261">sequenceNumber: INT.NONNEG [</tspan></text>
</g>

<g id="subject">
<polygon class="cy cls" points="258,2362 510,2362 510,2534 384,2546 258,2534"/>
<text><tspan class="t" x="263" y="2377">subject</tspan><tspan x="263" y="2391"><tspan class="b">typeCode*</tspan>: &lt;= <tspan class="i">SBJ</tspan></tspan><tspan x="263" y="2403">modeCode*: CD CWE [1..1] &lt; <tspan class="i">D:ParticipationMode</tspan></tspan></text>
</g>

<g id="sequel">
<polygon class="lp cls" points="235,2232 332,2221 432,2232 432,2290 235,2290"/>
<text><tspan class="t" x="240" y="2247">sequel</tspan><tspan x="240" y="2260"><tspan class="b">typeCode*</tspan>: &lt;= <tspan class="i">SEQL</tspan></tspan><tspan x="240" y="2273">sequenceNumber: INT.NONNEG [0..1]</tspan></text>
</g>

<g id="InformRequest">
<rect class="pk cls" x="304" y="2290" width="462" height="72"/>
<text><tspan class="t" x="309" y="2302">InformRequest</tspan>
<tspan x="309" y="2321"><tspan class="b">classCode*</tspan>: &lt;= <tspan class="i">INFRM</tspan></tspan>
<tspan x="309" y="2334"><tspan class="b">moodCode*</tspan>: &lt;= <tspan class="i">RQO</tspan></tspan>
<tspan x="309" y="2347">code*: CD CWE [1..1] &lt; <tspan class="i">D:ActCode</tspan> (e.g. Document Type)</tspan></text>
</g>

<g id="NoteDocumentRouting">
<path class="note" d="M840,2230H981L989,2238V2377H840Z"/><path class="ln" d="M981,2230V2238H989"/>
<text><tspan class="b" x="843" y="2242">Note:</tspan>
<tspan x="843" y="2255">(Provider Topic)</tspan>
<tspan x="843" y="2268">use case - Document Routing</tspan>
<tspan x="843" y="2281">where code = doc type e.g.</tspan>
<tspan x="843" y="2294">ECG</tspan>
<tspan x="843" y="2307">XRAY</tspan>
<tspan x="846" y="2319">DI -  Diagnostic Image</tspan>
<tspan x="843" y="2332">Lab Test Result</tspan>
<tspan x="843" y="2345">Other</tspan>
<tspan x="843" y="2358">Transcript</tspan></text>
</g>

<g id="receiver">
<polygon class="cy cls" points="583,2362 691,2362 691,2508 637,2520 583,2508"/>
<text><tspan class="t" x="588" y="2377">receiver</tspan><tspan x="588" y="2391"><tspan class="b">typeCode*</tspan>: &lt;= <tspan class="i">RCV</tspan></tspan></text>
</g>

<g id="Choice"><rect class="bd" x="92" y="2521" width="693" height="176"/><text class="bt c" x="438" y="2538">Choice</text></g>

<g id="ServiceDeliveryLocation">
<rect class="ye cls" x="105" y="2546" width="536" height="140"/>
<text><tspan class="t" x="110" y="2558">ServiceDeliveryLocation</tspan>
<tspan x="110" y="2577"><tspan class="b">classCode*</tspan>: &lt;= <tspan class="i">SDLOC</tspan></tspan>
<tspan x="110" y="2589">id: II [0..1] (ORG:2; PRA:7.5)</tspan>
<tspan x="110" y="2602">code: CD CWE [0..1] &lt; <tspan class="i">D:ServiceDeliveryLocationRoleType</tspan></tspan>
<tspan x="114" y="2615">(ORG:3; ROL:10)</tspan>
<tspan x="110" y="2628">addr: COLL&lt;AD&gt; [0..*]</tspan>
<tspan x="110" y="2641">telecom: COLL&lt;TEL&gt; [0..*]</tspan>
<tspan x="110" y="2654">effectiveTime: IVL&lt;TS&gt; [0..1]</tspan></text>
</g>

<g id="AssignedEntityRef">
<rect x="653" y="2592" width="120" height="47" fill="url(#hy)" stroke="#555" stroke-width="1.5"/>
<text class="t" x="658" y="2604">AssignedEntity</text>
</g>

<g id="Place">
<rect class="gr cls" x="254" y="2765" width="173" height="72"/>
<text><tspan class="t" x="259" y="2777">Place</tspan>
<tspan x="259" y="2796"><tspan class="b">classCode*</tspan>: &lt;= <tspan class="i">PLC</tspan></tspan>
<tspan x="259" y="2809"><tspan class="b">determinerCode*</tspan>: &lt;= <tspan class="i">INSTANCE</tspan></tspan>
<tspan x="259" y="2822">name*: EN [1..1]</tspan></text>
</g>

<g id="PrincipalPerson">
<rect class="gr cls" x="1021" y="2711" width="301" height="208"/>
<text><tspan class="t" x="1026" y="2723">PrincipalPerson</tspan>
<tspan x="1026" y="2742"><tspan class="b">classCode*</tspan>: &lt;= <tspan class="i">PSN</tspan></tspan>
<tspan x="1026" y="2755"><tspan class="b">determinerCode*</tspan>: &lt;= <tspan class="i">INSTANCE</tspan></tspan>
<tspan x="1026" y="2767">id: DSET&lt;II&gt; [0..*] (STF:1; PRA:1; ROL:4:1,9,13,14,22,23)</tspan>
<tspan x="1026" y="2780">name: LIST&lt;EN&gt; [1..*] (CER:13, STF:3; ROL:4:2-7,10,16,21)</tspan></text>
</g>

<g id="PrincipalOrganization">
<rect class="gr cls" x="1331" y="2736" width="335" height="158"/>
<text><tspan class="t" x="1336" y="2748">PrincipalOrganization</tspan>
<tspan x="1336" y="2766"><tspan class="b">classCode*</tspan>: &lt;= <tspan class="i">ORG</tspan></tspan>
<tspan x="1336" y="2779"><tspan class="b">determinerCode*</tspan>: &lt;= <tspan class="i">INSTANCE</tspan></tspan>
<tspan x="1336" y="2792">id: DSET&lt;II&gt; [0..*] (ROL:4:1,9,13,14,22,23)</tspan>
<tspan x="1336" y="2805">name: LIST&lt;EN&gt; [0..*] (ROL:4:2-7,10,16; AFF:2, CER:13)</tspan></text>
</g>

<g id="Affiliate">
<rect class="ye cls" x="1862" y="2863" width="295" height="75"/>
<text><tspan class="t" x="1866" y="2875">Affiliate</tspan>
<tspan x="1866" y="2893"><tspan class="b">classCode*</tspan>: &lt;= <tspan class="i">AFFL</tspan></tspan>
<tspan x="1866" y="2906">id: DSET&lt;II&gt; [0..*]</tspan>
<tspan x="1866" y="2919">code*: CD CWE [1..1] &lt; <tspan class="i">D:AffiliationRoleType</tspan> (AFF:2, AFF3)</tspan>
<tspan x="1866" y="2932">effectiveTime*: IVL&lt;TS&gt; [1..1] (AFF:4)</tspan></text>
</g>

<g id="AffiliatePrincipalPerson">
<rect x="1816" y="3009" width="120" height="71" fill="url(#hg)" stroke="#555" stroke-width="1.5"/>
<text class="t" x="1820" y="3021">PrincipalPerson</text>
</g>
<g id="AffiliatePrincipalOrganization">
<rect x="1947" y="3009" width="151" height="71" fill="url(#hg)" stroke="#555" stroke-width="1.5"/>
<text class="t" x="1951" y="3021">PrincipalOrganization</text>
</g>

<g id="LanguageCommunication">
<rect class="bl cls" x="1373" y="3068" width="340" height="107"/>
<text><tspan class="t" x="1378" y="3084">LanguageCommunication</tspan>
<tspan class="t" x="1378" y="3100">(LanguageCommunication)</tspan>
<tspan x="1378" y="3118"><tspan class="b">languageCode*</tspan>: CD CWE [1..1] &lt; <tspan class="i">D:HumanLanguage</tspan> (LAN:2)</tspan>
<tspan x="1378" y="3131">modeCode: CD CWE [0..1] &lt; <tspan class="i">D:LanguageAbilityMode</tspan> (LAN:3)</tspan>
<tspan x="1378" y="3144">proficiencyLevelCode: CD CWE [0..1] &lt; <tspan class="i">D:LanguageAbilityProficiency</tspan></tspan>
<tspan x="1382" y="3156">(LAN:4)</tspan>
<tspan x="1378" y="3169">preferenceInd: BL [0..1]</tspan></text>
</g>
</svg>
